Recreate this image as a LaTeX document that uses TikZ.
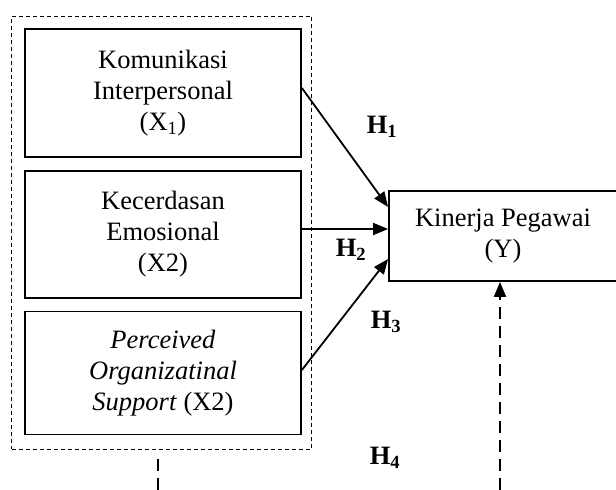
\documentclass[tikz,border=0pt]{standalone}
\usepackage{fontspec}
\setmainfont{Liberation Serif}
\usetikzlibrary{arrows.meta,calc}
\begin{document}
\begin{tikzpicture}[x=1pt,y=-1pt,
  txt/.style={font=\fontsize{26.5}{31}\selectfont},
  varbox/.style={draw,line width=1.8pt,txt,align=center,inner sep=0pt},
  grp/.style={draw,line width=0.9pt,dash pattern=on 4pt off 3pt,inner sep=0pt},
  arr/.style={line width=1.8pt,-{Triangle[length=15pt,width=12pt]}},
  darr/.style={line width=1.8pt,dash pattern=on 12pt off 7pt,-{Triangle[length=15pt,width=12pt]}},
  hyp/.style={font=\fontsize{26.5}{31}\selectfont\bfseries}]
\useasboundingbox (0,0) rectangle (616,490);
\node[grp,minimum width=300pt,minimum height=433pt] (outer) at (161.5,232.5) {};
\node[varbox,minimum width=276pt,minimum height=128pt] (b1) at (163,93)
  {Komunikasi\\Interpersonal\\(X\textsubscript{1})};
\node[varbox,minimum width=276pt,minimum height=127pt] (b2) at (163,234.5)
  {Kecerdasan\\Emosional\\(X2)};
\node[varbox,minimum width=276pt,minimum height=123pt] (b3) at (163,373)
  {\textit{Perceived}\\\textit{Organizatinal}\\\textit{Support} (X2)};
\node[varbox,minimum width=228pt,minimum height=90pt] (y) at (503,236)
  {Kinerja Pegawai\\(Y)};
\node[hyp] (h1) at (382,127) {H\textsubscript{1}};
\node[hyp] (h2) at (351,250) {H\textsubscript{2}};
\node[hyp] (h3) at (386,322) {H\textsubscript{3}};
\node[hyp] (h4) at (385,458) {H\textsubscript{4}};
\draw[arr] ($(b1.east)+(0,-5)$) -- ($(y.west)+(0,-29)$);
\draw[arr] ($(b2.east)+(0,-5.5)$) -- ($(y.west)+(0,-7)$);
\draw[arr] ($(b3.east)+(0,-3)$) -- ($(y.west)+(0,23)$);
\coordinate (d4) at (500,490);
\coordinate (d5) at (158,490);
\draw[darr] (d4) -- (d4 |- y.south);
\draw[line width=1.8pt,dash pattern=on 12pt off 7pt] (d5) -- ($(outer.south -| d5)+(0,6)$);
\end{tikzpicture}
\end{document}
